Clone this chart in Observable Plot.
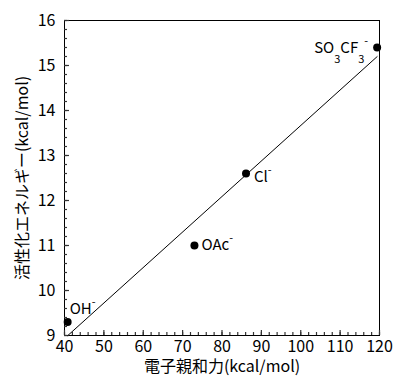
<!DOCTYPE html>
<html><head><meta charset="utf-8">
<script src="https://cdn.jsdelivr.net/npm/d3@7"></script>
<script src="https://cdn.jsdelivr.net/npm/@observablehq/plot@0.6"></script>
<style>body{margin:0;background:#fff}</style>
</head><body><div id="chart"></div>
<script>
const anions = ["OH⁻", "OAc⁻", "Cl⁻", "SO₃CF₃⁻"];
const affinity = [40.8, 73.0, 86.1, 119.4];
const activation = [9.3, 11.0, 12.6, 15.4];
const xTickLabels = [40, 50, 60, 70, 80, 90, 100, 110, 120];
const yTickLabels = [9, 10, 11, 12, 13, 14, 15, 16];
const xLabel = "電子親和力(kcal/mol)";
const yLabel = "活性化エネルギー(kcal/mol)";

const data = anions.map((a, i) => ({anion: a, x: affinity[i], y: activation[i]}));
const labelPos = [
  {dx: 2, dy: -13, anchor: "start"},
  {dx: 7, dy: 0, anchor: "start"},
  {dx: 8, dy: 4, anchor: "start"},
  {dx: -9, dy: 1, anchor: "end"}
];
const xMinor = d3.range(40, 120.001, 2);
const yMinor = d3.range(9, 16.001, 0.2);

const font = "'Noto Sans CJK JP', 'Noto Sans', sans-serif";
const W = 395, H = 376, mL = 64, mR = 16, mT = 20, mB = 41;
const fw = W - mL - mR, fh = H - mT - mB;
const chart = Plot.plot({
  width: W, height: H,
  marginLeft: mL, marginRight: mR, marginTop: mT, marginBottom: mB,
  x: {domain: [40, 120]},
  y: {domain: [9, 16]},
  style: {fontFamily: font, fontSize: "16px", color: "black", background: "white"},
  marks: [
    Plot.frame({stroke: "black"}),
    Plot.tickX(xMinor, {x: d => d, insetTop: fh - 3, stroke: "#333", strokeWidth: 1.2}),
    Plot.tickX(xTickLabels, {x: d => d, insetTop: fh - 5, stroke: "#333", strokeWidth: 1.2}),
    Plot.tickY(yMinor, {y: d => d, insetRight: fw - 3, stroke: "#333", strokeWidth: 1.2}),
    Plot.tickY(yTickLabels, {y: d => d, insetRight: fw - 5, stroke: "#333", strokeWidth: 1.2}),
    Plot.axisX({ticks: xTickLabels, tickSize: 0, tickPadding: 5, label: null, tickFormat: d3.format("d"), fontSize: 16}),
    Plot.axisY({ticks: yTickLabels, tickSize: 0, tickPadding: 9, label: null, tickFormat: d3.format("d"), fontSize: 16}),
    Plot.linearRegressionY(data, {x: "x", y: "y", ci: 0, stroke: "black", strokeWidth: 1}),
    Plot.dot(data, {x: "x", y: "y", r: 4, fill: "black"}),
    ...data.map((d, i) => Plot.text([d], {x: "x", y: "y", text: "anion", dx: labelPos[i].dx, dy: labelPos[i].dy, textAnchor: labelPos[i].anchor, fontSize: 15})),
    Plot.text([xLabel], {text: d => d, frameAnchor: "bottom", dy: 31, lineAnchor: "middle", textAnchor: "middle", fontSize: 16}),
    Plot.text([yLabel], {text: d => d, frameAnchor: "left", dx: -42, rotate: -90, lineAnchor: "middle", textAnchor: "middle", fontSize: 16})
  ]
});

// render sub/superscripts as tspans
chart.querySelectorAll("text").forEach(t => {
  const s = t.textContent;
  if (!/[₃⁻]/.test(s) || t.children.length) return;
  t.textContent = "";
  let shift = 0;
  for (const ch of s) {
    const ts = document.createElementNS("http://www.w3.org/2000/svg", "tspan");
    let target = 0;
    if (ch === "₃") { ts.textContent = "3"; ts.setAttribute("font-size", "11"); target = 10; }
    else if (ch === "⁻") { ts.textContent = "-"; ts.setAttribute("font-size", "11"); target = -8; }
    else { ts.textContent = ch; target = 0; }
    ts.setAttribute("dy", target - shift);
    shift = target;
    t.appendChild(ts);
  }
});
document.getElementById("chart").appendChild(chart);
</script>
</body></html>
